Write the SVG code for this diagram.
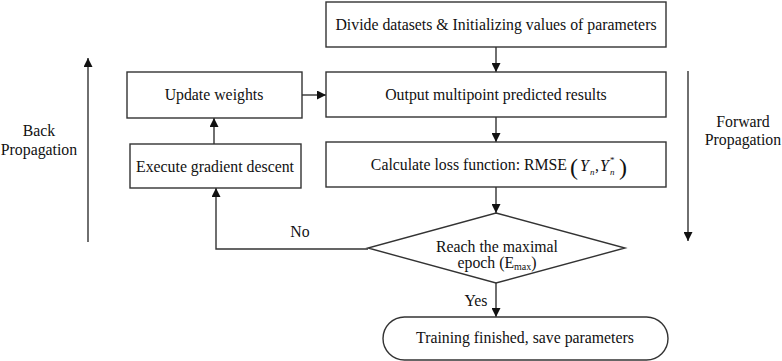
<svg xmlns="http://www.w3.org/2000/svg" width="782" height="361" viewBox="0 0 782 361" font-family="'Liberation Serif', 'Times New Roman', 'DejaVu Serif', serif" font-size="15.8">
<defs>
<style>
.box{fill:#fff;stroke:#333;stroke-width:1.4}
.ln{fill:none;stroke:#333;stroke-width:1.4}
text{fill:#111}
.c{text-anchor:middle}
.i{font-style:italic}
</style>
<marker id="ah" viewBox="0 0 10 10" refX="10" refY="5" markerWidth="9" markerHeight="9" markerUnits="userSpaceOnUse" orient="auto">
<path d="M0,0 L10,5 L0,10 z" fill="#111"/>
</marker>
</defs>
<rect width="782" height="361" fill="#fff"/>
<g id="connectors">
<line class="ln" x1="496" y1="47" x2="496" y2="72" marker-end="url(#ah)"/>
<line class="ln" x1="496" y1="117" x2="496" y2="142" marker-end="url(#ah)"/>
<line class="ln" x1="496" y1="187" x2="496" y2="213" marker-end="url(#ah)"/>
<line class="ln" x1="496" y1="283" x2="496" y2="317" marker-end="url(#ah)"/>
<line class="ln" x1="302" y1="95" x2="326" y2="95" marker-end="url(#ah)"/>
<line class="ln" x1="214" y1="144" x2="214" y2="118" marker-end="url(#ah)"/>
<polyline class="ln" points="368,249 216,249 216,188" marker-end="url(#ah)"/>
<line class="ln" x1="88" y1="242" x2="88" y2="58" marker-end="url(#ah)"/>
<line class="ln" x1="688" y1="71" x2="688" y2="241" marker-end="url(#ah)"/>
<text x="300" y="237" class="c">No</text>
<text x="476" y="306" class="c">Yes</text>
</g>
<g id="n-divide">
<rect class="box" x="326" y="2" width="340" height="45"/>
<text x="496" y="30" class="c">Divide datasets &amp; Initializing values of parameters</text>
</g>
<g id="n-output">
<rect class="box" x="326" y="72" width="340" height="45"/>
<text x="496" y="100" class="c">Output multipoint predicted results</text>
</g>
<g id="n-loss">
<rect class="box" x="326" y="142" width="340" height="45"/>
<text x="567" y="170" text-anchor="end">Calculate loss function: RMSE</text>
<text x="570" y="175" font-size="24">(</text>
<text x="580" y="171" class="i">Y</text>
<text x="590" y="175" class="i" font-size="9">n</text>
<text x="595" y="171">,</text>
<text x="600" y="171" class="i">Y</text>
<text x="610" y="163" font-size="9">*</text>
<text x="610" y="175" class="i" font-size="9">n</text>
<text x="619" y="175" font-size="24">)</text>
</g>
<g id="n-update">
<rect class="box" x="127" y="72" width="175" height="46"/>
<text x="214" y="100" class="c">Update weights</text>
</g>
<g id="n-gradient">
<rect class="box" x="130" y="144" width="171" height="44"/>
<text x="215" y="172" class="c">Execute gradient descent</text>
</g>
<g id="n-decision">
<polygon class="box" points="496,213 625,248 496,283 368,248"/>
<text x="497" y="252" class="c">Reach the maximal</text>
<text x="497" y="268" class="c">epoch (E<tspan font-size="10" dy="2">max</tspan><tspan dy="-2">)</tspan></text>
</g>
<g id="n-finish">
<rect class="box" x="383" y="317" width="285" height="43" rx="21.5" ry="21.5"/>
<text x="525" y="343" class="c">Training finished, save parameters</text>
</g>
<g id="labels">
<text x="39" y="136" class="c">Back</text>
<text x="39" y="155" class="c">Propagation</text>
<text x="743" y="127" class="c">Forward</text>
<text x="743" y="145" class="c">Propagation</text>
</g>
</svg>
